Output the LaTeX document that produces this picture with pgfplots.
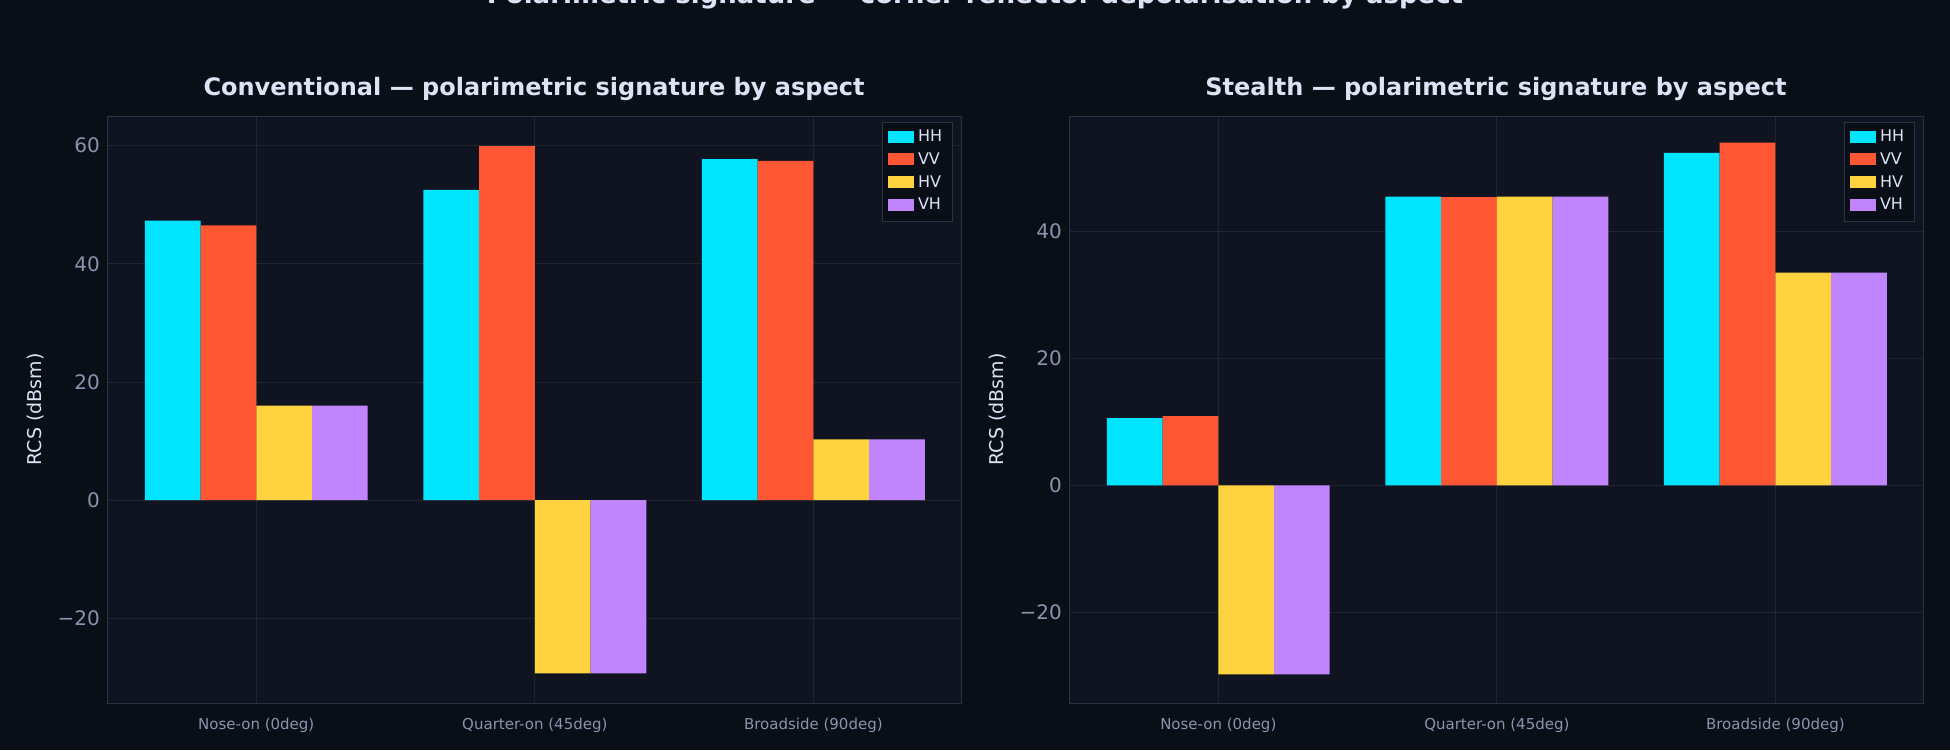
\documentclass[border=0pt]{standalone}
\usepackage{pgfplots}
\pgfplotsset{compat=1.18}
\usepackage{fontspec}
\setmainfont{DejaVu Sans}
\definecolor{figbg}{HTML}{0A0E17}
\definecolor{axbg}{HTML}{0F1420}
\definecolor{cHH}{HTML}{00E5FF}
\definecolor{cVV}{HTML}{FF5733}
\definecolor{cHV}{HTML}{FFD23F}
\definecolor{cVH}{HTML}{C084FC}
\definecolor{tick}{HTML}{8A94AE}
\definecolor{ttl}{HTML}{DDE3F5}
\definecolor{spine}{HTML}{2A3142}
\pgfplotsset{
  myax/.style={
    scale only axis, width=427pt, height=293.5pt,
    axis background/.style={fill=axbg},
    axis line style={spine}, 
    xmin=-0.536, xmax=2.53,
    xtick={0,1,2}, xticklabels={Nose-on (0deg),Quarter-on (45deg),Broadside (90deg)},
    xticklabel style={font=\fontsize{7.5}{9}\selectfont, color=tick},
    yticklabel style={font=\fontsize{10}{12}\selectfont, color=tick},
    tick style={draw=none},
    grid=major, grid style={white, opacity=0.07},
    ylabel={RCS (dBsm)}, ylabel style={color=ttl, font=\fontsize{9.5}{11}\selectfont},
    title style={color=ttl, font=\bfseries\fontsize{12}{14}\selectfont, yshift=-2pt},
    ybar, bar width=0.2,
    legend style={at={(0.99,0.99)}, anchor=north east, fill=figbg, draw=spine,
      text=ttl, font=\fontsize{8}{10}\selectfont, legend cell align=left},
    legend image code/.code={\fill[#1] (0pt,-2.5pt) rectangle (13pt,3.5pt);},
  }
}
\begin{document}
\begin{tikzpicture}[x=1pt,y=1pt]
\clip (0,0) rectangle (975,375);
\fill[figbg] (0,0) rectangle (975,375);
\node[color=ttl, font=\bfseries\fontsize{13}{15}\selectfont] at (487.5,377) {Polarimetric signature — corner-reflector depolarisation by aspect};
\begin{axis}[myax, at={(53.5pt,23.5pt)}, ymin=-34.3, ymax=65, ytick={-20,0,20,40,60},
  yticklabels={−20,0,20,40,60},
  title={Conventional — polarimetric signature by aspect}]
\addplot[fill=cHH, draw=none, bar shift=-0.3] coordinates {(0,47.3) (1,52.5) (2,57.7)};
\addplot[fill=cVV, draw=none, bar shift=-0.1] coordinates {(0,46.5) (1,59.9) (2,57.4)};
\addplot[fill=cHV, draw=none, bar shift=0.1] coordinates {(0,16) (1,-29.3) (2,10.3)};
\addplot[fill=cVH, draw=none, bar shift=0.3] coordinates {(0,16) (1,-29.3) (2,10.3)};
\legend{HH,VV,HV,VH}
\end{axis}
\begin{axis}[myax, at={(534.5pt,23.5pt)}, ymin=-34.3, ymax=58.2, ytick={-20,0,20,40},
  yticklabels={−20,0,20,40},
  title={Stealth — polarimetric signature by aspect}]
\addplot[fill=cHH, draw=none, bar shift=-0.3] coordinates {(0,10.6) (1,45.5) (2,52.4)};
\addplot[fill=cVV, draw=none, bar shift=-0.1] coordinates {(0,10.9) (1,45.4) (2,54)};
\addplot[fill=cHV, draw=none, bar shift=0.1] coordinates {(0,-29.8) (1,45.5) (2,33.5)};
\addplot[fill=cVH, draw=none, bar shift=0.3] coordinates {(0,-29.8) (1,45.5) (2,33.5)};
\legend{HH,VV,HV,VH}
\end{axis}
\end{tikzpicture}
\end{document}
